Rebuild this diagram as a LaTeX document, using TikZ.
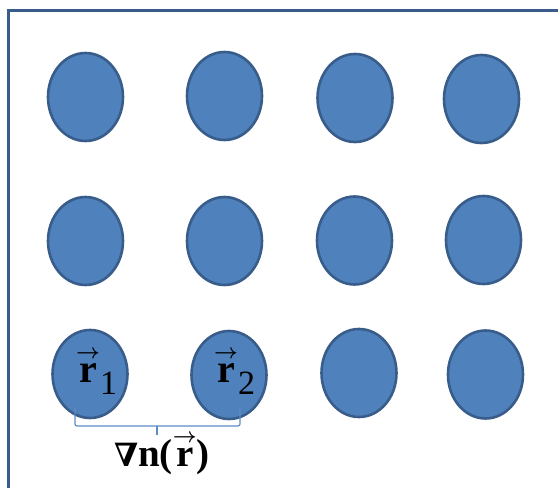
\documentclass[tikz,border=0pt]{standalone}
\usepackage{amsmath}
\usepackage{fontspec}
\setmainfont{Liberation Serif}
\newfontfamily\symfont{DejaVu Serif}
\usetikzlibrary{shapes.geometric}
\definecolor{dotfill}{HTML}{4F81BD}
\definecolor{dotline}{HTML}{385D8A}
\definecolor{bracecol}{HTML}{5B8CC6}
\newcommand{\vr}{\ensuremath{\overset{\scriptscriptstyle\boldsymbol{\rightarrow}}{\mathbf{r}}}}
\begin{document}
\begin{tikzpicture}[x=1pt,y=-1pt,
  dot/.style={ellipse,draw=dotline,fill=dotfill,line width=2.6pt,minimum width=75pt,minimum height=88pt,inner sep=0pt},
  lbl/.style={font=\fontsize{39}{41}\selectfont\bfseries,text=black}]
\useasboundingbox (0,0) rectangle (558,488);
\clip (0,0) rectangle (558,488);
\draw[dotline,line width=3pt] (8.5,600) -- (8.5,10.5) -- (600,10.5);
% row 1
\node[dot] (a1) at (85.5,97) {};
\node[dot] (a2) at (224.5,96) {};
\node[dot] (a3) at (355,98) {};
\node[dot] (a4) at (481.5,99) {};
% row 2
\node[dot] (b1) at (85.5,241) {};
\node[dot] (b2) at (224.5,241) {};
\node[dot] (b3) at (354.5,240.5) {};
\node[dot] (b4) at (483.5,240) {};
% row 3
\node[dot] (c1) at (90,374) {};
\node[dot] (c2) at (229,375) {};
\node[dot] (c3) at (359,373) {};
\node[dot] (c4) at (485.5,374.5) {};
% labels
\node[lbl,anchor=base west,inner sep=0pt] (l1) at (76,382) {\fontsize{40}{42}\selectfont\vr\raisebox{-0.3em}{\fontsize{34}{34}\selectfont\mdseries 1}};
\node[lbl,anchor=base west,inner sep=0pt] (l2) at (214,382) {\fontsize{40}{42}\selectfont\vr\raisebox{-0.3em}{\fontsize{34}{34}\selectfont\mdseries 2}};
% brace
\coordinate (bl) at (75,408);
\coordinate (br) at (240,408);
\coordinate (bm) at (157,435);
\draw[bracecol,line width=1.2pt,rounded corners=2pt] (bl) -- (75,426) -- (br |- 0,426) -- (br);
\draw[bracecol,line width=1.2pt] (157,426) -- (bm);
\node[lbl,anchor=base,inner sep=0pt] (grad) at (162,466) {{\symfont\fontsize{32}{34}\selectfont ∇}n(\vr)};
\end{tikzpicture}
\end{document}
